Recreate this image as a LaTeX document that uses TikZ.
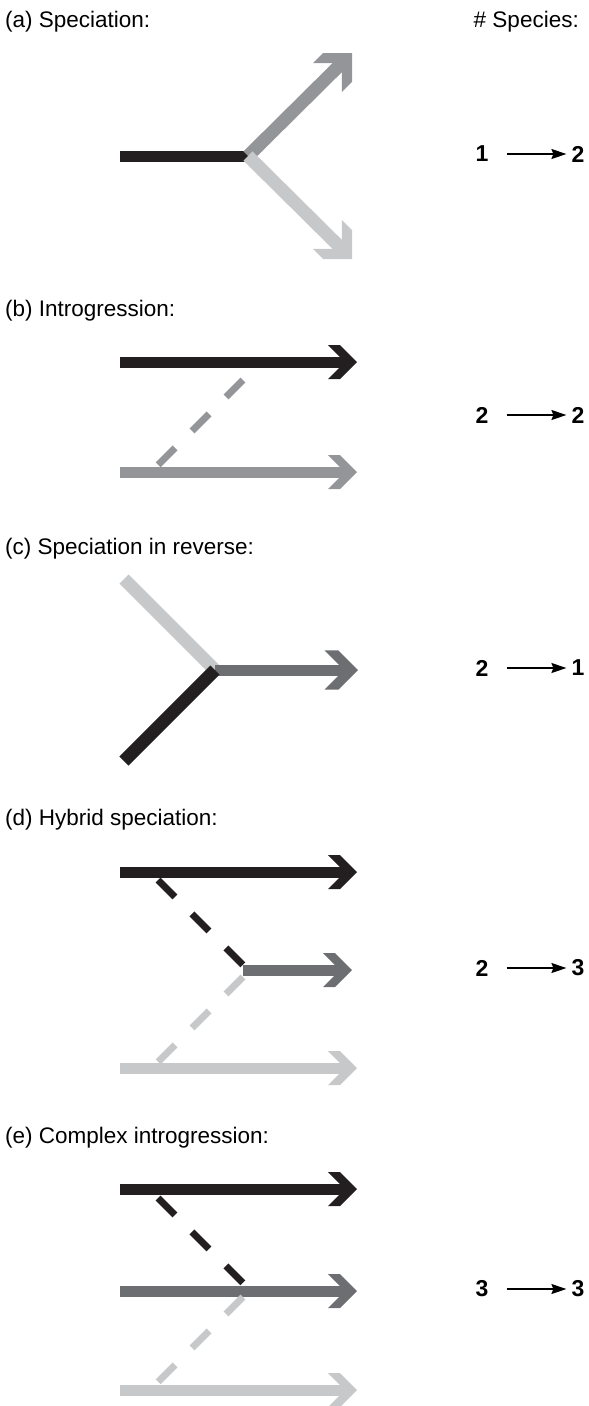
\documentclass[tikz,border=0pt]{standalone}
\usepackage{fontspec}
\setmainfont{Liberation Sans}
\usetikzlibrary{arrows.meta}

\definecolor{inkblack}{HTML}{231F20}
\definecolor{midgray}{HTML}{939598}
\definecolor{slategray}{HTML}{6D6E71}
\definecolor{palegray}{HTML}{C7C8CA}

\tikzset{
    chev/.pic={\path[pic actions] (0,0) -- (-17,-17) -- (-29,-17) -- (-12,0) -- (-29,17) -- (-17,17) -- cycle;},
    bar/.style={line width=11pt},
    dia/.style={line width=13pt},
    tipped/.style={shorten >=10pt},
    gene/.style={line width=7pt, dash pattern=on 24pt off 24pt},
    lbl/.style={inner sep=0pt, anchor=base west, font=\fontsize{22.5}{27}\selectfont},
    num/.style={inner sep=0pt, font=\bfseries\fontsize{23}{27}\selectfont},
    count/.style={-{Stealth[length=15pt,width=10pt,inset=2pt]}, line width=1.4pt, shorten <=18pt, shorten >=5pt}
}

\begin{document}
\begin{tikzpicture}[x=1pt, y=-1pt]
    \pgfmathsetmacro{\xstart}{120}
    \pgfmathsetmacro{\xtip}{357}
    \pgfmathsetmacro{\xfork}{243}
    \pgfmathsetmacro{\xfoot}{158}
    \pgfmathsetmacro{\xone}{482}
    \pgfmathsetmacro{\xtwo}{578}

    \useasboundingbox (0,0) rectangle (589,1406);

    % (a) speciation
    \node[lbl] (a-lbl) at (5,27) {(a) Speciation:};
    \node[lbl, anchor=base east] (head) at (\xtwo+1,27) {\# Species:};
    \coordinate (a-in) at (\xstart,156);
    \coordinate (a-fork) at (248,156);
    \coordinate (a-up) at (352,53);
    \coordinate (a-down) at (352,259);
    \draw[bar, inkblack] (a-in) -- (a-fork);
    \draw[dia, midgray, shorten >=12pt] (a-fork) -- (a-up);
    \pic[rotate=45, scale=1.2, fill=midgray] at (a-up) {chev};
    \draw[dia, palegray, shorten >=12pt] (a-fork) -- (a-down);
    \pic[rotate=-45, scale=1.2, fill=palegray] at (a-down) {chev};
    \node[num] (a-n0) at (\xone,154) {1};
    \node[num] (a-n1) at (\xtwo,154) {2};
    \draw[count] (a-n0) -- (a-n1);

    % (b) introgression
    \node[lbl] (b-lbl) at (5,316) {(b) Introgression:};
    \coordinate (b-top) at (\xstart,362);
    \coordinate (b-toptip) at (\xtip,362);
    \coordinate (b-bot) at (\xstart,472);
    \coordinate (b-bottip) at (\xtip,472);
    \coordinate (b-from) at (\xfoot,465);
    \coordinate (b-to) at (\xfork,380);
    \draw[bar, tipped, inkblack] (b-top) -- (b-toptip);
    \pic[fill=inkblack] at (b-toptip) {chev};
    \draw[bar, tipped, midgray] (b-bot) -- (b-bottip);
    \pic[fill=midgray] at (b-bottip) {chev};
    \draw[gene, midgray] (b-to) -- (b-from);
    \node[num] (b-n0) at (\xone,415) {2};
    \node[num] (b-n1) at (\xtwo,415) {2};
    \draw[count] (b-n0) -- (b-n1);

    % (c) speciation in reverse
    \node[lbl] (c-lbl) at (5,554) {(c) Speciation in reverse:};
    \coordinate (c-up) at (124,579);
    \coordinate (c-low) at (124,761);
    \coordinate (c-fork) at (215,670);
    \coordinate (c-tip) at (358,670);
    \draw[dia, palegray] (c-up) -- (c-fork);
    \draw[bar, slategray, shorten >=11.5pt] (c-fork) -- (c-tip);
    \pic[scale=1.15, fill=slategray] at (c-tip) {chev};
    \draw[dia, inkblack] (c-low) -- (c-fork);
    \node[num] (c-n0) at (\xone,668) {2};
    \node[num] (c-n1) at (\xtwo,668) {1};
    \draw[count] (c-n0) -- (c-n1);

    % (d) hybrid speciation
    \node[lbl] (d-lbl) at (5,825) {(d) Hybrid speciation:};
    \coordinate (d-top) at (\xstart,872);
    \coordinate (d-toptip) at (\xtip,872);
    \coordinate (d-fork) at (\xfork,970);
    \coordinate (d-midtip) at (352,970);
    \coordinate (d-bot) at (\xstart,1068);
    \coordinate (d-bottip) at (\xtip,1068);
    \coordinate (d-f1) at (\xfoot,880);
    \coordinate (d-t1) at (\xfork,965);
    \coordinate (d-f2) at (\xfoot,1062);
    \coordinate (d-t2) at (\xfork,977);
    \draw[bar, tipped, inkblack] (d-top) -- (d-toptip);
    \pic[fill=inkblack] at (d-toptip) {chev};
    \draw[bar, tipped, slategray] (d-fork) -- (d-midtip);
    \pic[fill=slategray] at (d-midtip) {chev};
    \draw[bar, tipped, palegray] (d-bot) -- (d-bottip);
    \pic[fill=palegray] at (d-bottip) {chev};
    \draw[gene, inkblack] (d-f1) -- (d-t1);
    \draw[gene, palegray] (d-t2) -- (d-f2);
    \node[num] (d-n0) at (\xone,968) {2};
    \node[num] (d-n1) at (\xtwo,968) {3};
    \draw[count] (d-n0) -- (d-n1);

    % (e) complex introgression
    \node[lbl] (e-lbl) at (5,1143) {(e) Complex introgression:};
    \coordinate (e-top) at (\xstart,1189);
    \coordinate (e-toptip) at (\xtip,1189);
    \coordinate (e-mid) at (\xstart,1291);
    \coordinate (e-midtip) at (\xtip,1291);
    \coordinate (e-bot) at (\xstart,1390);
    \coordinate (e-bottip) at (\xtip,1390);
    \coordinate (e-f1) at (\xfoot,1198);
    \coordinate (e-t1) at (\xfork,1283);
    \coordinate (e-f2) at (\xfoot,1382);
    \coordinate (e-t2) at (\xfork,1297);
    \draw[bar, tipped, inkblack] (e-top) -- (e-toptip);
    \pic[fill=inkblack] at (e-toptip) {chev};
    \draw[bar, tipped, slategray] (e-mid) -- (e-midtip);
    \pic[fill=slategray] at (e-midtip) {chev};
    \draw[bar, tipped, palegray] (e-bot) -- (e-bottip);
    \pic[fill=palegray] at (e-bottip) {chev};
    \draw[gene, inkblack] (e-f1) -- (e-t1);
    \draw[gene, palegray] (e-t2) -- (e-f2);
    \node[num] (e-n0) at (\xone,1289) {3};
    \node[num] (e-n1) at (\xtwo,1289) {3};
    \draw[count] (e-n0) -- (e-n1);
\end{tikzpicture}
\end{document}
